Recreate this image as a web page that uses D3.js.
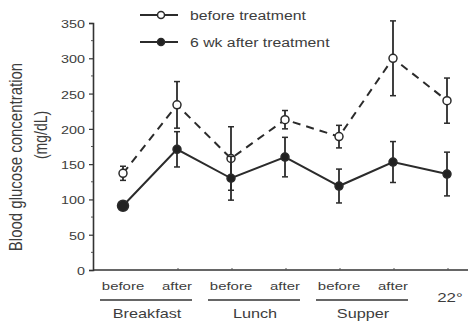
<!DOCTYPE html>
<html>
<head>
<meta charset="utf-8">
<script src="https://cdn.jsdelivr.net/npm/d3@7"></script>
<style>
  body { margin: 0; background: #fff; }
  text { font-family: "Liberation Sans", Arial, sans-serif; fill: #3d3d3d; }
</style>
</head>
<body>
<div class="vis"></div>
<script>
// meal timepoints
const points = ['Bb', 'Ba', 'Lb', 'La', 'Sb', 'Sa', 'N'];
const tickNames = ['before', 'after', 'before', 'after', 'before', 'after', ''];
const meals = [
    { name: 'Breakfast', from: 'Bb', to: 'Ba' },
    { name: 'Lunch', from: 'Lb', to: 'La' },
    { name: 'Supper', from: 'Sb', to: 'Sa' },
];
// before treatment (open circles)
const beforeMean = [137, 234, 158, 213, 189, 300, 240];
const beforeErr = [10, 33, 45, 13, 16, 53, 32];
// 6 wk after treatment (filled)
const afterMean = [91, 171, 130, 160, 119, 153, 136];
const afterErr = [0, 25, 31, 28, 24, 29, 31];
const yTicks = [0, 50, 100, 150, 200, 250, 300, 350];

const W = 468, H = 322;
const SX = 1.25; // the scanned figure is stretched sideways
const svg = d3.select('.vis').append('svg').attr('width', W).attr('height', H);

const x = d3.scalePoint().domain(points).range([123, 447]);
const y = d3.scaleLinear().domain([0, 350]).range([270, 23]);

// text helper: places text with the horizontal stretch of the original
const label = (sel, px, py, sx, rot) =>
    sel.attr('transform', (d, i) => {
        const tx = typeof px === 'function' ? px(d, i) : px;
        const ty = typeof py === 'function' ? py(d, i) : py;
        return 'translate(' + tx + ',' + ty + ') scale(' + sx + ',1)' + (rot ? ' rotate(' + rot + ')' : '');
    });

// y axis
const yAxis = svg.append('g').attr('transform', 'translate(93,0)')
    .call(d3.axisLeft(y).tickValues(yTicks).tickSize(4).tickFormat(''));
yAxis.select('.domain').attr('stroke', '#333').attr('stroke-width', 1.6);
yAxis.selectAll('.tick line').attr('stroke', '#333').attr('stroke-width', 1.2);
svg.append('g').selectAll('text').data(yTicks).join('text')
    .call(label, 85, (d) => y(d) + 5, SX)
    .attr('text-anchor', 'end').attr('font-size', 11.5)
    .text((d) => d);
// minor ticks
svg.append('g').selectAll('line').data(d3.range(25, 350, 50)).join('line')
    .attr('x1', 91).attr('x2', 93).attr('y1', (d) => y(d)).attr('y2', (d) => y(d))
    .attr('stroke', '#555');

// x baseline
svg.append('line').attr('x1', 93).attr('x2', W).attr('y1', y(0)).attr('y2', y(0))
    .attr('stroke', '#333').attr('stroke-width', 1.6);
svg.append('g').selectAll('line').data(points.slice(1)).join('line')
    .attr('x1', (d) => x(d) + 1).attr('x2', (d) => x(d) + 1)
    .attr('y1', y(0) - 2).attr('y2', y(0))
    .attr('stroke', '#555');

// x tick labels
svg.append('g').selectAll('text').data(points).join('text')
    .call(label, (d) => x(d), 290, 1.3)
    .attr('text-anchor', 'middle').attr('font-size', 11.5)
    .text((d, i) => tickNames[i]);

// meal group lines
svg.append('g').selectAll('line').data(meals).join('line')
    .attr('x1', (d) => x(d.from) - 23).attr('x2', (d) => x(d.to) + 15)
    .attr('y1', 300).attr('y2', 300)
    .attr('stroke', '#333').attr('stroke-width', 1.5);
svg.append('g').selectAll('text').data(meals).join('text')
    .call(label, (d) => (x(d.from) + x(d.to)) / 2 - 3, 318, SX)
    .attr('text-anchor', 'middle').attr('font-size', 13)
    .text((d) => d.name);
svg.append('text').call(label, x('N') + 3, 302, SX)
    .attr('text-anchor', 'middle').attr('font-size', 13.5).text('22°');

// y label
svg.append('text').call(label, 22, 157, SX, -90)
    .attr('text-anchor', 'middle').attr('font-size', 15)
    .text('Blood glucose concentration');
svg.append('text').call(label, 47, 135, SX, -90)
    .attr('text-anchor', 'middle').attr('font-size', 14)
    .text('(mg/dL)');

function series(mean, err, dashed, filled) {
    const g = svg.append('g');
    const rows = mean.map((m, i) => ({ key: points[i], m: m, e: err[i], i: i }));
    const line = d3.line().x((d) => x(d.key)).y((d) => y(d.m));
    g.append('path').datum(rows).attr('d', line)
        .attr('fill', 'none').attr('stroke', '#2b2b2b').attr('stroke-width', 2)
        .attr('stroke-dasharray', dashed ? '8,6' : null);
    const eb = g.append('g').selectAll('g').data(rows.filter((d) => d.e > 0)).join('g');
    eb.append('line')
        .attr('x1', (d) => x(d.key)).attr('x2', (d) => x(d.key))
        .attr('y1', (d) => y(d.m + d.e)).attr('y2', (d) => y(d.m - d.e))
        .attr('stroke', '#2b2b2b').attr('stroke-width', 1.8);
    [1, -1].forEach((s) => {
        eb.append('line')
            .attr('x1', (d) => x(d.key) - 3).attr('x2', (d) => x(d.key) + 3)
            .attr('y1', (d) => y(d.m + s * d.e)).attr('y2', (d) => y(d.m + s * d.e))
            .attr('stroke', '#2b2b2b').attr('stroke-width', 1.5);
    });
    g.append('g').selectAll('circle').data(rows).join('circle')
        .attr('cx', (d) => x(d.key)).attr('cy', (d) => y(d.m))
        .attr('r', (d) => (filled && d.i === 0 ? 5.5 : 4))
        .attr('fill', filled ? '#222' : '#fff')
        .attr('stroke', '#2b2b2b').attr('stroke-width', 1.5);
}
series(beforeMean, beforeErr, true, false);
series(afterMean, afterErr, false, true);

// legend
const legend = [
    { label: 'before treatment', filled: false, y: 15 },
    { label: '6 wk after treatment', filled: true, y: 42 },
];
const lg = svg.append('g').selectAll('g').data(legend).join('g');
lg.append('line').attr('x1', 140).attr('x2', 178).attr('y1', (d) => d.y).attr('y2', (d) => d.y)
    .attr('stroke', '#2b2b2b').attr('stroke-width', 2);
lg.append('circle').attr('cx', 161).attr('cy', (d) => d.y).attr('r', 3.5)
    .attr('fill', (d) => (d.filled ? '#222' : '#fff')).attr('stroke', '#2b2b2b').attr('stroke-width', 1.5);
lg.append('text').call(label, 190, (d) => d.y + 5, 1.17)
    .attr('font-size', 13.5)
    .text((d) => d.label);
</script>
</body>
</html>
